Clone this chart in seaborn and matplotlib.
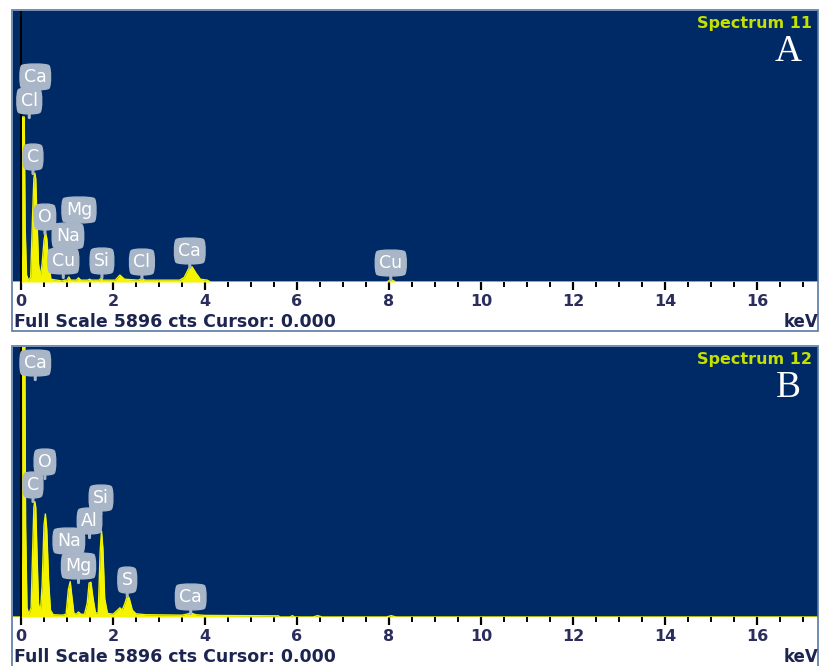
import matplotlib
matplotlib.use("Agg")
import matplotlib.pyplot as plt
import seaborn as sns
from matplotlib.patches import Rectangle
from matplotlib.ticker import MultipleLocator

sns.set_theme(style="white")
plt.rcParams['font.family'] = ['DejaVu Sans']

# ---------------- data ----------------
full_scale = 5896

energy_a = [-0.17, 0.0, 0.02, 0.03, 0.07, 0.09, 0.12, 0.16, 0.21, 0.25, 0.28, 0.30, 0.32, 0.35,
            0.38, 0.42, 0.46, 0.50, 0.53, 0.56, 0.60, 0.65, 0.90, 0.95, 1.00, 1.04, 1.08, 1.20,
            1.25, 1.30, 1.45, 1.49, 1.53, 1.70, 1.74, 1.78, 2.05, 2.15, 2.25, 2.55, 2.62, 2.70,
            3.45, 3.55, 3.65, 3.72, 3.80, 3.90, 4.05, 4.12, 7.95, 8.05, 8.15, 17.33]
counts_a = [0, 0, 900, 3590, 3590, 1200, 150, 40, 100, 1400, 2250, 2370, 2250, 1300,
            400, 120, 400, 900, 1080, 950, 450, 60, 20, 40, 40, 110, 40, 40,
            90, 40, 40, 60, 40, 40, 80, 40, 40, 150, 60, 40, 70, 40,
            40, 100, 300, 330, 200, 60, 40, 0, 0, 50, 0, 0]

energy_b = [-0.17, 0.0, 0.02, 0.03, 0.08, 0.10, 0.13, 0.17, 0.22, 0.26, 0.28, 0.30, 0.32, 0.35,
            0.38, 0.42, 0.46, 0.50, 0.53, 0.56, 0.60, 0.64, 0.70, 0.90, 0.98, 1.03, 1.07, 1.10,
            1.15, 1.20, 1.25, 1.30, 1.38, 1.44, 1.48, 1.52, 1.56, 1.62, 1.68, 1.72, 1.75, 1.78,
            1.82, 1.88, 2.00, 2.10, 2.15, 2.20, 2.26, 2.31, 2.35, 2.42, 2.50, 2.70, 3.50, 3.60,
            3.69, 3.80, 4.00, 5.60, 5.62, 5.85, 5.90, 5.95, 6.35, 6.45, 6.55, 7.95, 8.05, 8.15, 17.33]
counts_b = [0, 0, 2000, 6500, 6500, 2000, 200, 60, 200, 1700, 2400, 2520, 2400, 1300,
            300, 80, 700, 2000, 2250, 1900, 800, 150, 50, 40, 60, 600, 770, 500,
            80, 60, 110, 60, 60, 300, 740, 760, 450, 80, 100, 1400, 1880, 1500,
            400, 80, 60, 150, 200, 150, 300, 465, 420, 150, 70, 50, 40, 60,
            90, 50, 35, 25, 0, 0, 30, 0, 0, 30, 0, 0, 30, 0, 0]

labels_a = ["Ca", "Cl", "C", "O", "Mg", "Na", "Cu", "Si", "Cl", "Ca", "Cu"]
label_kev_a = [0.31, 0.18, 0.26, 0.52, 1.26, 1.02, 0.92, 1.76, 2.63, 3.67, 8.04]
label_cts_a = [4461, 3939, 2720, 1414, 1567, 1001, 457, 457, 435, 675, 413]

labels_b = ["Ca", "O", "C", "Si", "Al", "Na", "Mg", "S", "Ca"]
label_kev_b = [0.31, 0.52, 0.26, 1.74, 1.49, 1.04, 1.25, 2.31, 3.69]
label_cts_b = [5547, 3385, 2883, 2599, 2097, 1660, 1114, 808, 437]

spectrum_names = ["Spectrum 11", "Spectrum 12"]
panel_letters = ["A", "B"]
footer = "Full Scale 5896 cts Cursor: 0.000"

# ---------------- styling ----------------
NAVY = "#002a66"
YELLOW = "#f4f400"
BADGE = "#a9b6c8"
TICKCOL = "#2b2d5c"
W, H = 819, 666

fig = plt.figure(figsize=(W / 100, H / 100), dpi=100)
fig.patch.set_facecolor("white")


def rect(x0, y0, x1, y1):
    return [x0 / W, 1 - y1 / H, (x1 - x0) / W, (y1 - y0) / H]


panels = [
    dict(e=energy_a, c=counts_a, labs=labels_a, lx=label_kev_a, ly=label_cts_a,
         top=11, base=282, border=(12, 10, 818, 331)),
    dict(e=energy_b, c=counts_b, labs=labels_b, lx=label_kev_b, ly=label_cts_b,
         top=347, base=617, border=(12, 346, 818, 680)),
]

for i, p in enumerate(panels):
    ax = fig.add_axes(rect(13, p["top"], 818, p["base"]))
    ax.set_facecolor(NAVY)
    ax.fill_between(p["e"], p["c"], color=YELLOW, lw=0, zorder=2)
    sns.lineplot(x=p["e"], y=p["c"], ax=ax, color=YELLOW, lw=1.0, zorder=3)
    ax.axvline(0, color="black", lw=1.4, zorder=4)
    ax.set_xlim(-0.174, 17.33)
    ax.set_ylim(0, full_scale)
    ax.set_yticks([])
    ax.xaxis.set_major_locator(MultipleLocator(2))
    ax.xaxis.set_minor_locator(MultipleLocator(0.5))
    ax.tick_params(axis="x", which="major", direction="out", length=6, width=1.6,
                   color="black", bottom=True, labelsize=11.5, pad=2.5, labelcolor=TICKCOL)
    ax.tick_params(axis="x", which="minor", direction="out", length=3.5, width=1.4,
                   color="black", bottom=True)
    for t in ax.get_xticklabels():
        t.set_fontweight("bold")
    for s in ax.spines.values():
        s.set_visible(False)
    ax.set_xlabel("")
    ax.set_ylabel("")

    for lab, x, y in zip(p["labs"], p["lx"], p["ly"]):
        ax.annotate("", xy=(x, y), xytext=(0, -12), textcoords="offset points",
                    arrowprops=dict(arrowstyle="-", color=BADGE, lw=2.2,
                                    shrinkA=0, shrinkB=0), zorder=5)
        ax.text(x, y, lab, ha="center", va="center", color="white", fontsize=12.5,
                zorder=6,
                bbox=dict(boxstyle="round4,pad=0.26", fc=BADGE, ec=BADGE))

    ax.text(0.992, 0.955, spectrum_names[i], transform=ax.transAxes, ha="right",
            va="center", color="#c6e000", fontsize=11.5, fontweight="bold")
    ax.text(0.963, 0.85, panel_letters[i], transform=ax.transAxes, ha="center",
            va="center", color="white", fontsize=27, family="Liberation Serif")

    ytxt = p["base"] + 40
    fig.text(14 / W, 1 - ytxt / H, footer, ha="left", va="center", color="#1c2450",
             fontsize=12.5, fontweight="bold")
    fig.text(818 / W, 1 - ytxt / H, "keV", ha="right", va="center", color="#1c2450",
             fontsize=12, fontweight="bold")

    x0, y0, x1, y1 = p["border"]
    fig.add_artist(Rectangle((x0 / W, 1 - y1 / H), (x1 - x0) / W, (y1 - y0) / H,
                             transform=fig.transFigure, fill=False, ec="#5a78a6", lw=1.2))

fig.savefig("out.png", dpi=100, facecolor="white")
